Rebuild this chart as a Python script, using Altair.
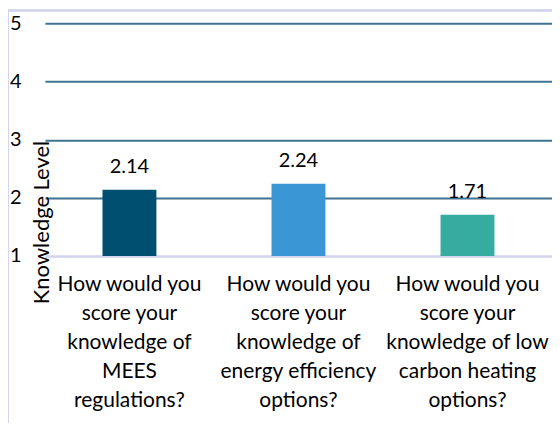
import altair as alt
import pandas as pd

categories = [
    "How would you\nscore your\nknowledge of\nMEES\nregulations?",
    "How would you\nscore your\nknowledge of\nenergy efficiency\noptions?",
    "How would you\nscore your\nknowledge of low\ncarbon heating\noptions?",
]
values = [2.14, 2.24, 1.71]
colors = ["#004f71", "#3a96d4", "#36aba0"]
y_ticks = [1, 2, 3, 4, 5]

df = pd.DataFrame({"cat": categories, "val": values, "color": colors})

FONT = "Lato"

x_enc = alt.X(
    "cat:N",
    sort=categories,
    scale=alt.Scale(paddingInner=0.68, paddingOuter=0.34),
    axis=alt.Axis(
        title=None,
        labelAngle=0,
        labelExpr="split(datum.label, '\\n')",
        labelFontSize=21,
        labelFont=FONT,
        labelColor="#000000",
        labelLineHeight=29,
        labelPadding=18,
        labelBaseline="top",
        labelLimit=0,
        ticks=False,
        domainColor="#d4d4ef",
        domainWidth=2,
        grid=False,
    ),
)

y_enc = alt.Y(
    "val:Q",
    scale=alt.Scale(domain=[1, 5], nice=False, zero=False),
    axis=alt.Axis(
        title="Knowledge Level",
        values=y_ticks,
        format="d",
        labelFontSize=20,
        labelFont=FONT,
        labelColor="#000000",
        labelPadding=24,
        labelAlign="right",
        ticks=False,
        domain=False,
        grid=True,
        gridColor=alt.condition(alt.datum.value == 1, alt.value("#d4d4ef"), alt.value("#3f7390")),
        gridWidth=2,
        titleFont=FONT,
        titleFontSize=22,
        titleFontWeight="normal",
        titleColor="#000000",
        titleAngle=270,
        titleX=-3,
        titleY=199,
        titleAlign="center",
        titleBaseline="middle",
    ),
)

bars = alt.Chart(df).mark_bar(size=54).encode(
    x=x_enc,
    y=y_enc,
    y2=alt.datum(1),
    color=alt.Color("color:N", scale=None),
)

text = alt.Chart(df).mark_text(
    font=FONT, fontSize=20, color="#000000", baseline="alphabetic", dy=-17
).encode(
    x=alt.X("cat:N", sort=categories),
    y=alt.Y("val:Q"),
    text=alt.Text("val:Q", format=".2f"),
)

frame = alt.Chart(df).mark_rect(
    fill=None, stroke="#d4d4ef", strokeWidth=2
).encode(
    x=alt.value(-37),
    x2=alt.value(509),
    y=alt.value(-13),
    y2=alt.value(402),
)

chart = (
    alt.layer(frame, bars, text)
    .properties(
        width=508,
        height=233,
        padding={"left": 37, "top": 15, "right": 0, "bottom": 167},
        autosize=alt.AutoSizeParams(type="none"),
        background="#ffffff",
    )
    .configure_view(stroke=None)
)

chart.save("out.html", embed_options={"renderer": "svg", "actions": False})
